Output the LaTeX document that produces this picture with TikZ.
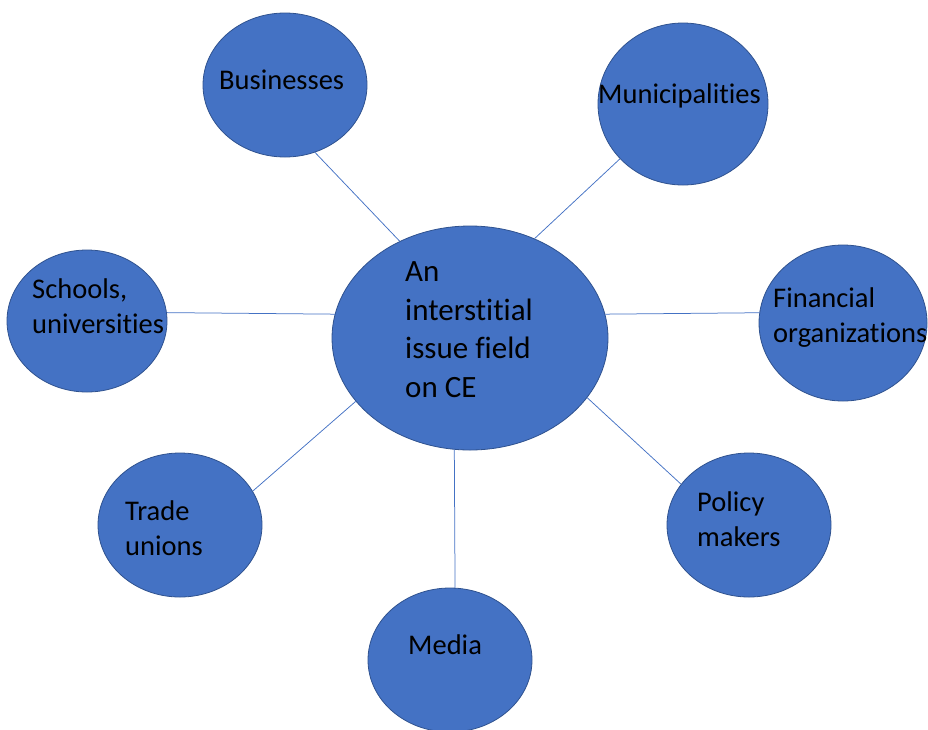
\documentclass[tikz,border=0pt]{standalone}
\usepackage{fontspec}
\setmainfont[Ligatures=NoCommon]{Carlito}
\usetikzlibrary{shapes.geometric}
\definecolor{bubblefill}{HTML}{4472C4}
\definecolor{bubbleedge}{HTML}{2F528F}
\definecolor{spoke}{HTML}{4472C4}
\tikzset{
  bubble/.style={ellipse, draw=bubbleedge, line width=0.8pt, fill=bubblefill, inner sep=0pt},
  % anchored at the baseline of the last line
  caption/.style={anchor=base west, inner sep=0pt, align=left, text=black,
    font=\fontsize{28.5}{35}\selectfont},
  bigcaption/.style={caption, font=\fontsize{31}{38.5}\selectfont},
  spokeline/.style={draw=spoke, line width=0.75pt}
}
\begin{document}
\begin{tikzpicture}[x=1pt, y=-1pt]
  \useasboundingbox (0,0) rectangle (928,729);

  % bubbles
  \node[bubble, minimum width=276pt, minimum height=224pt] (hub) at (470,338) {};
  \node[bubble, minimum width=164pt, minimum height=144pt] (biz) at (285,85) {};
  \node[bubble, minimum width=170pt, minimum height=162pt] (muni) at (683,104) {};
  \node[bubble, minimum width=160pt, minimum height=142pt] (school) at (87,321) {};
  \node[bubble, minimum width=168pt, minimum height=156pt] (fin) at (843,323) {};
  \node[bubble, minimum width=164pt, minimum height=144pt] (trade) at (180,525) {};
  \node[bubble, minimum width=164pt, minimum height=144pt] (media) at (450,660) {};
  \node[bubble, minimum width=164pt, minimum height=144pt] (policy) at (749,525) {};

  % spokes from the hub
  \draw[spokeline] (hub.126.4) -- (biz.294.8);
  \draw[spokeline] (hub.57.8) -- (muni.221.6);
  \draw[spokeline] (hub.170.1) -- (school.6.4);
  \draw[spokeline] (hub.10.7) -- (fin.173.8);
  \draw[spokeline] (hub.209.5) -- (trade.25.9);
  \draw[spokeline] (hub.262.9) -- (media.86.7);
  \draw[spokeline] (hub.333.4) -- (policy.149.9);

  % labels
  \node[bigcaption] (hubtext) at (405,397) {An\\interstitial\\issue field\\on CE};
  \node[caption] (biztext) at (219,89) {Businesses};
  \node[caption] (munitext) at (598,103) {Municipalities};
  \node[caption] (schooltext) at (32,333) {Schools,\\universities};
  \node[caption] (fintext) at (773,342) {Financial\\organizations};
  \node[caption] (tradetext) at (125,555) {Trade\\unions};
  \node[caption] (mediatext) at (408,654) {Media};
  \node[caption] (policytext) at (697,546) {Policy\\makers};
\end{tikzpicture}
\end{document}
